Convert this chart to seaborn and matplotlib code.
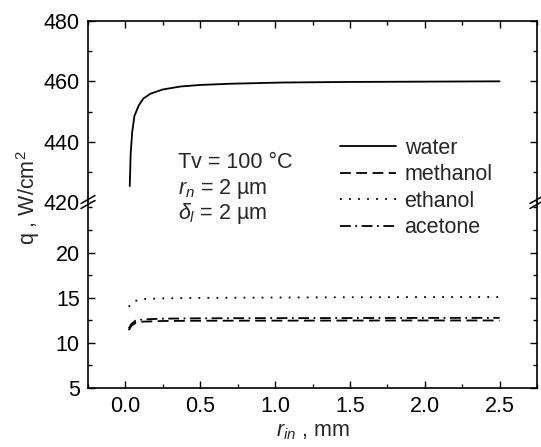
import numpy as np
import pandas as pd
import matplotlib
matplotlib.use("Agg")
import matplotlib.pyplot as plt
from matplotlib.ticker import MultipleLocator
import seaborn as sns

# ---- data ----
r_water = [0.029, 0.035, 0.045, 0.06, 0.089, 0.12, 0.167, 0.25, 0.37, 0.5, 0.7, 1.04, 1.5, 2.0, 2.5]
q_water = [425.3, 436.0, 443.0, 448.5, 452.0, 454.3, 455.9, 457.3, 458.3, 458.8, 459.2, 459.6, 459.8, 459.9, 460.0]

r_small = [0.022, 0.04, 0.067, 0.12, 0.25, 0.5, 1.0, 1.5, 2.0, 2.5]
q_methanol = [11.4, 11.9, 12.2, 12.35, 12.42, 12.45, 12.46, 12.47, 12.48, 12.48]
q_ethanol = [14.0, 14.35, 14.65, 14.85, 14.93, 14.98, 15.02, 15.05, 15.07, 15.08]
q_acetone = [11.6, 12.1, 12.45, 12.6, 12.68, 12.72, 12.74, 12.75, 12.76, 12.77]

x_ticks = [0.0, 0.5, 1.0, 1.5, 2.0, 2.5]
upper_ticks = [420, 440, 460, 480]
lower_ticks = [5, 10, 15, 20]

sns.set_theme(style="ticks")
plt.rcParams['font.family'] = ['Liberation Sans', 'DejaVu Sans']
plt.rcParams['mathtext.fontset'] = 'custom'
plt.rcParams['mathtext.rm'] = 'Liberation Sans'
plt.rcParams['mathtext.it'] = 'Liberation Sans:italic'
plt.rcParams['mathtext.bf'] = 'Liberation Sans:bold'

FS = 15.5
W, H = 541, 447
fig = plt.figure(figsize=(W / 100, H / 100), dpi=100)

L, R = 88 / W, 537 / W
top_px, brk_px, bot_px = 21, 202, 388
ax_up = fig.add_axes([L, 1 - brk_px / H, R - L, (brk_px - top_px) / H])
ax_lo = fig.add_axes([L, 1 - bot_px / H, R - L, (bot_px - brk_px) / H])

lw = 1.3
sns.lineplot(x=r_water, y=q_water, ax=ax_up, color='black', lw=lw,
             linestyle='-', label='water', legend=False)
sns.lineplot(x=r_small, y=q_methanol, ax=ax_lo, color='black', lw=lw,
             linestyle=(0, (6, 3)), label='methanol', legend=False)
sns.lineplot(x=r_small, y=q_ethanol, ax=ax_lo, color='black', lw=lw,
             linestyle=(0, (1, 4)), label='ethanol', legend=False)
sns.lineplot(x=r_small, y=q_acetone, ax=ax_lo, color='black', lw=lw,
             linestyle=(0, (6, 2.5, 1, 2.5)), label='acetone', legend=False)

for ax in (ax_up, ax_lo):
    ax.set_xlim(-0.25, 2.75)
    ax.xaxis.set_major_locator(MultipleLocator(0.5))
    ax.xaxis.set_minor_locator(MultipleLocator(0.25))
    for s in ax.spines.values():
        s.set_linewidth(1.2)
        s.set_color('black')
    ax.tick_params(which='both', direction='in', left=True, right=True,
                   labelsize=FS, colors='black', width=1.0, pad=6)
    ax.tick_params(which='major', length=5)
    ax.tick_params(which='minor', length=3)
    ax.set_xlabel('')
    ax.set_ylabel('')

ax_up.set_ylim(420, 480)
ax_up.set_yticks(upper_ticks)
ax_up.yaxis.set_minor_locator(MultipleLocator(10))
ax_up.spines['bottom'].set_visible(False)
ax_up.tick_params(which='both', top=True, bottom=False, labelbottom=False)

ax_lo.set_ylim(5, 25.6)
ax_lo.set_yticks(lower_ticks)
ax_lo.yaxis.set_minor_locator(MultipleLocator(2.5))
ax_lo.spines['top'].set_visible(False)
ax_lo.tick_params(which='both', top=False, bottom=True)
ax_lo.set_xticks(x_ticks)
ax_lo.set_xticklabels([f"{v:.1f}" for v in x_ticks])
ax_lo.set_xlabel(r"$r_{in}$ , mm", fontsize=FS, labelpad=3)

# break marks on the y axis
yb = 1 - brk_px / H
for xs in (L, R):
    for dy in (-2.5 / H, 2.5 / H):
        fig.add_artist(plt.Line2D([xs - 7 / W, xs + 7 / W],
                                  [yb + dy - 4 / H, yb + dy + 4 / H],
                                  color='black', lw=1.1))

fig.text(28 / W, 1 - 198 / H, r"q , W/cm$^2$", rotation=90, ha='center',
         va='center', fontsize=FS)

fig.text(178 / W, 1 - 163 / H, "Tv = 100 °C", fontsize=FS, va='center')
fig.text(178 / W, 1 - 189 / H, r"$r_n$ = 2 µm", fontsize=FS, va='center')
fig.text(178 / W, 1 - 214 / H, r"$\delta_l$ = 2 µm", fontsize=FS, va='center')

handles = ax_up.get_lines()[:1] + ax_lo.get_lines()[:3]
labels = ['water', 'methanol', 'ethanol', 'acetone']
fig.legend(handles, labels, loc='upper left',
           bbox_to_anchor=(340 / W, 1 - 138 / H), frameon=False,
           fontsize=FS, handlelength=2.6, handletextpad=0.4,
           labelspacing=0.25, borderpad=0, borderaxespad=0)

fig.savefig("out.png", dpi=100)
